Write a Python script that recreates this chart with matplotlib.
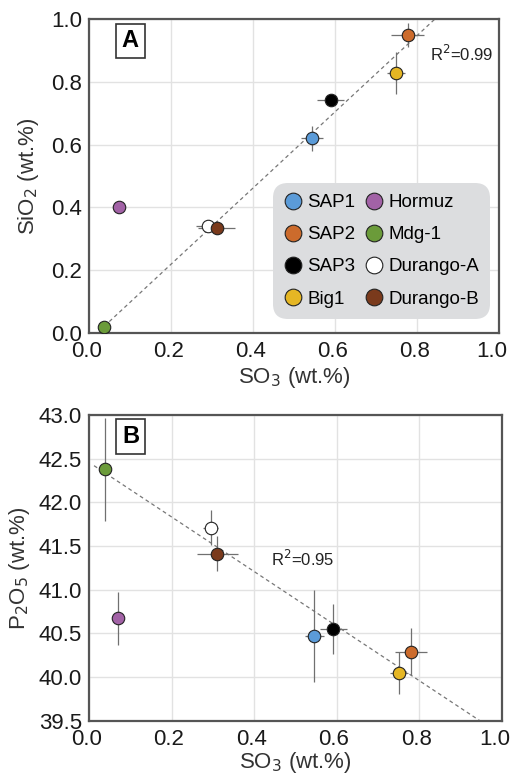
import numpy as np
import matplotlib.pyplot as plt
import matplotlib.transforms as mtransforms
from matplotlib.lines import Line2D

samples = ["SAP1", "SAP2", "SAP3", "Big1", "Hormuz", "Mdg-1", "Durango-A", "Durango-B"]
colors = ["#5b9bd8", "#cc6b2c", "#000000", "#e5b624", "#a262a6", "#6b9b3a", "#ffffff", "#7a3a1c"]

# SO3 vs SiO2 (panel A)
so3_a = [0.543, 0.777, 0.589, 0.748, 0.072, 0.037, 0.291, 0.311]
so3_a_err = [0.027, 0.040, 0.033, 0.022, 0.0, 0.0, 0.030, 0.045]
sio2 = [0.620, 0.949, 0.742, 0.828, 0.401, 0.019, 0.342, 0.335]
sio2_err = [0.040, 0.038, 0.020, 0.067, 0.0, 0.0, 0.015, 0.020]

# SO3 vs P2O5 (panel B)
so3_b = [0.546, 0.780, 0.592, 0.751, 0.071, 0.038, 0.295, 0.311]
so3_b_err = [0.024, 0.039, 0.033, 0.022, 0.0, 0.0, 0.018, 0.050]
p2o5 = [40.47, 40.29, 40.55, 40.04, 40.67, 42.38, 41.71, 41.41]
p2o5_err = [0.53, 0.265, 0.29, 0.24, 0.30, 0.59, 0.20, 0.20]

x_ticks = np.arange(0, 1.01, 0.2)
sio2_ticks = np.arange(0, 1.01, 0.2)
p2o5_ticks = np.arange(39.5, 43.01, 0.5)

# Hormuz is left out of both regressions
fit_mask = np.array([s != "Hormuz" for s in samples])

plt.rcParams['font.family'] = ['Liberation Sans', 'DejaVu Sans']

fig = plt.figure(figsize=(5.12, 7.76), dpi=100)
ax_a = fig.add_axes([0.174, 0.571, 0.801, 0.4045])
ax_b = fig.add_axes([0.174, 0.0715, 0.806, 0.3935])


def style(ax):
    ax.grid(True, color="#e2e2e2", lw=1.0)
    ax.set_axisbelow(True)
    for sp in ax.spines.values():
        sp.set_color("#555555")
        sp.set_linewidth(1.6)
    ax.tick_params(length=0, labelsize=16, colors="#1a1a1a")
    ax.tick_params(axis="x", pad=6)
    ax.tick_params(axis="y", pad=5)


def nudge_xlabels(ax):
    # pull the tick labels slightly left so the last one stays on the canvas
    labels = ax.get_xticklabels()
    for i, lab in enumerate(labels):
        dx = -7 if i == len(labels) - 1 else -3
        off = mtransforms.ScaledTranslation(dx / 100, 0, fig.dpi_scale_trans)
        lab.set_transform(lab.get_transform() + off)


def draw(ax, x, xe, y, ye):
    for i in range(len(samples)):
        ax.errorbar(x[i], y[i], xerr=xe[i], yerr=ye[i], fmt="none",
                    ecolor="#707070", elinewidth=0.9, capsize=0, zorder=2)
        ax.plot(x[i], y[i], "o", ms=9, mfc=colors[i], mec="#222222", mew=0.8, zorder=3)


def panel_label(ax, text):
    ax.text(0.08, 0.93, text, transform=ax.transAxes, fontsize=17, fontweight="bold",
            ha="left", va="center",
            bbox=dict(boxstyle="square,pad=0.25", fc="white", ec="#333333", lw=1.2))


# panel A
style(ax_a)
draw(ax_a, so3_a, so3_a_err, sio2, sio2_err)
xa = np.array(so3_a)[fit_mask]
ya = np.array(sio2)[fit_mask]
ka, ba = np.polyfit(xa, ya, 1)
xl = np.linspace(0.037, (1.0 - ba) / ka, 50)
ax_a.plot(xl, ka * xl + ba, ls=(0, (3, 2.5)), color="#777777", lw=0.9, zorder=1)
ax_a.set_xlim(0, 1)
ax_a.set_ylim(0, 1)
ax_a.set_xticks(x_ticks)
ax_a.set_yticks(sio2_ticks)
ax_a.set_xticklabels([f"{v:.1f}" for v in x_ticks])
ax_a.set_yticklabels([f"{v:.1f}" for v in sio2_ticks])
ax_a.set_xlabel("SO$_3$ (wt.%)", fontsize=16, labelpad=2, color="#333333")
ax_a.set_ylabel("SiO$_2$ (wt.%)", fontsize=16, labelpad=7, color="#333333")
ax_a.text(0.985, 0.888, "R$^2$=0.99", transform=ax_a.transAxes, fontsize=12,
          ha="right", va="center", color="#222222")
panel_label(ax_a, "A")
nudge_xlabels(ax_a)

handles = [Line2D([], [], ls="none", marker="o", ms=12, mfc=c, mec="#222222", mew=0.8)
           for c in colors]
leg = ax_a.legend(handles, samples, ncol=2,
                  loc="lower right", bbox_to_anchor=(0.99, 0.03), fontsize=13.5,
                  frameon=True, fancybox=True, facecolor="#dcdddf", edgecolor="none",
                  framealpha=1, handletextpad=0.25, columnspacing=0.5,
                  labelspacing=0.8, borderpad=0.35, handlelength=1.0)
leg.get_frame().set_boxstyle("round,pad=0.25,rounding_size=0.8")

# panel B
style(ax_b)
draw(ax_b, so3_b, so3_b_err, p2o5, p2o5_err)
xb = np.array(so3_b)[fit_mask]
yb = np.array(p2o5)[fit_mask]
kb, bb = np.polyfit(xb, yb, 1)
xl = np.linspace(0.012, (39.5 - bb) / kb, 50)
ax_b.plot(xl, kb * xl + bb, ls=(0, (3, 2.5)), color="#777777", lw=0.9, zorder=1)
ax_b.set_xlim(0, 1)
ax_b.set_ylim(39.5, 43.0)
ax_b.set_xticks(x_ticks)
ax_b.set_xticklabels([f"{v:.1f}" for v in x_ticks])
ax_b.set_yticks(p2o5_ticks)
ax_b.set_yticklabels([f"{v:.1f}" for v in p2o5_ticks])
ax_b.set_xlabel("SO$_3$ (wt.%)", fontsize=16, labelpad=0, color="#333333")
ax_b.set_ylabel("P$_2$O$_5$ (wt.%)", fontsize=16, labelpad=5, color="#333333")
ax_b.text(0.44, 0.53, "R$^2$=0.95", transform=ax_b.transAxes, fontsize=12,
          ha="left", va="center", color="#222222")
panel_label(ax_b, "B")
nudge_xlabels(ax_b)

fig.savefig("out.png", dpi=100)
